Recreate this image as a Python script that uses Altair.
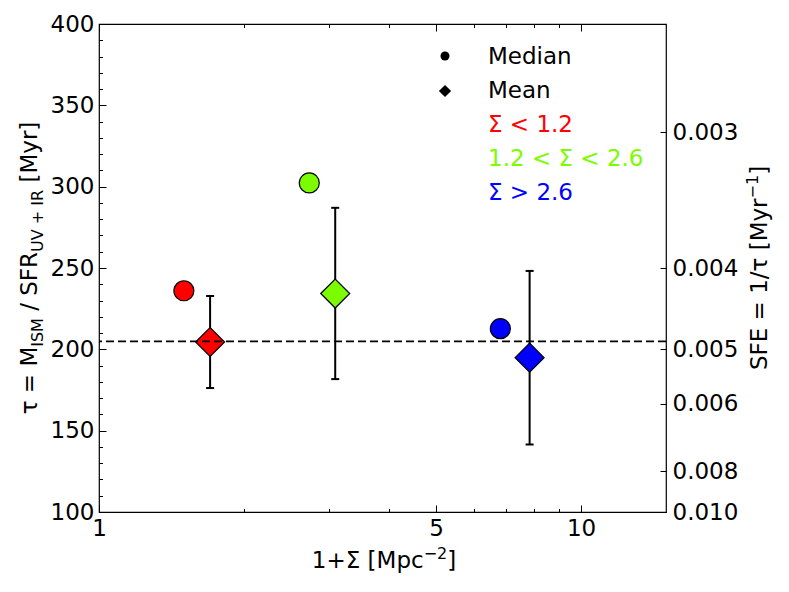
import altair as alt
import pandas as pd

FONT = "DejaVu Sans"

# ---- data ----
groups = ["Σ < 1.2", "1.2 < Σ < 2.6", "Σ > 2.6"]
group_colors = ["#ff0000", "#7cfc00", "#0000ff"]
median_x = [1.50, 2.73, 6.80]
median_tau = [236.0, 302.3, 212.7]
mean_x = [1.70, 3.09, 7.82]
mean_tau = [204.5, 234.3, 194.9]
mean_lo = [176.2, 181.7, 141.5]
mean_hi = [232.8, 287.0, 248.2]
overall_tau = [204.9]

x_domain = [1, 15]
y_domain = [100, 400]
x_major = [1, 5, 10]
x_minor = [2, 3, 4, 6, 7, 8, 9]
y_major = [100, 150, 200, 250, 300, 350, 400]
y_minor = [v for v in range(110, 400, 10) if v % 50]
sfe_ticks = [0.003, 0.004, 0.005, 0.006, 0.008, 0.010]

legend_labels = ["Median", "Mean"] + groups
legend_colors = ["black", "black"] + group_colors

W, H = 567, 488

med = pd.DataFrame({"group": groups, "x": median_x, "tau": median_tau})
mea = pd.DataFrame({"group": groups, "x": mean_x, "tau": mean_tau,
                    "lo": mean_lo, "hi": mean_hi})
hline = pd.DataFrame({"tau": overall_tau})
one = pd.DataFrame({"k": [0]})

xs = alt.Scale(type="log", domain=x_domain, nice=False)
ys = alt.Scale(domain=y_domain, nice=False, zero=False)
fill = alt.Fill("group:N", scale=alt.Scale(domain=groups, range=group_colors), legend=None)

X = alt.X("x:Q", scale=xs, axis=None)

bars = alt.Chart(mea).mark_rule(color="black", strokeWidth=2).encode(
    x=X, y=alt.Y("lo:Q", scale=ys, axis=None), y2="hi:Q")
cap_lo = alt.Chart(mea).mark_tick(orient="horizontal", color="black", size=8,
                                  thickness=2, opacity=1).encode(
    x=X, y=alt.Y("lo:Q", scale=ys, axis=None))
cap_hi = alt.Chart(mea).mark_tick(orient="horizontal", color="black", size=8,
                                  thickness=2, opacity=1).encode(
    x=X, y=alt.Y("hi:Q", scale=ys, axis=None))
medians = alt.Chart(med).mark_point(shape="circle", filled=True, size=400, stroke="black",
                                    strokeWidth=1.2, opacity=1).encode(
    x=X, y=alt.Y("tau:Q", scale=ys, axis=None), fill=fill)
means = alt.Chart(mea).mark_point(shape="diamond", filled=True, size=840, stroke="black",
                                  strokeWidth=1.2, opacity=1).encode(
    x=X, y=alt.Y("tau:Q", scale=ys, axis=None), fill=fill)
dash = alt.Chart(hline).mark_rule(color="black", strokeDash=[8, 4], strokeWidth=1.6).encode(
    y=alt.Y("tau:Q", scale=ys, axis=None))

data_layer = alt.layer(bars, cap_lo, cap_hi, medians, means, dash)


def tsize(v):
    return {"expr": str(-v)}


def x_axis(values, orient, size, labels, **kw):
    return alt.Chart(pd.DataFrame({"x": values})).mark_point(opacity=0).encode(
        x=alt.X("x:Q", scale=xs, axis=alt.Axis(values=values, orient=orient, tickSize=tsize(size),
                                              labels=labels, offset=0, **kw)))


def y_axis(values, orient, size, labels, **kw):
    return alt.Chart(pd.DataFrame({"y": values})).mark_point(opacity=0).encode(
        y=alt.Y("y:Q", scale=ys, axis=alt.Axis(values=values, orient=orient, tickSize=tsize(size),
                                              labels=labels, offset=0, **kw)))


ax_layers = [
    x_axis(x_major, "bottom", 7, True, format="d", labelPadding=12, title=None),
    x_axis(x_minor, "bottom", 3.5, False, title=None),
    x_axis(x_major, "top", 7, False, title=None),
    x_axis(x_minor, "top", 3.5, False, title=None),
    y_axis(y_major, "left", 7, True, labelPadding=12, title=None),
    y_axis(y_minor, "left", 3.5, False, title=None),
    y_axis([1 / v for v in sfe_ticks], "right", 6, True, labelPadding=12,
           labelExpr="format(1/datum.value, '.3f')", title=None),
]

# ---- axis titles with sub/superscripts, built from text pieces ----
WID = {"τ": 0.60, " ": 0.318, "=": 0.838, "M": 0.863, "I": 0.295, "S": 0.635, "/": 0.337,
       "F": 0.575, "R": 0.695, "U": 0.732, "V": 0.684, "+": 0.838, "[": 0.39, "]": 0.39,
       "y": 0.592, "r": 0.411, "1": 0.636, "2": 0.636, "Σ": 0.632, "p": 0.635, "c": 0.55,
       "E": 0.632, "−": 0.838}
MAIN, SUB = 23, 16


def width(txt, fs):
    return sum(WID[c] for c in txt) * fs


def rotated_title(pieces, base_x, center_y):
    total = sum(width(t, fs) + sp * WID[" "] * MAIN for t, fs, _, sp in pieces)
    cur = center_y + total / 2
    out = []
    for txt, fs, dxx, sp in pieces:
        cur -= sp * WID[" "] * MAIN
        out.append(alt.Chart(one).mark_text(
            text=txt, angle=270, align="left", baseline="alphabetic",
            font=FONT, fontSize=fs, color="black").encode(
            x=alt.value(base_x + dxx), y=alt.value(cur)))
        cur -= width(txt, fs)
    return out


def flat_title(pieces, center_x, base_y):
    total = sum(width(t, fs) for t, fs, _ in pieces)
    cur = center_x - total / 2
    out = []
    for txt, fs, dyy in pieces:
        out.append(alt.Chart(one).mark_text(
            text=txt, align="left", baseline="alphabetic",
            font=FONT, fontSize=fs, color="black").encode(
            x=alt.value(cur), y=alt.value(base_y + dyy)))
        cur += width(txt, fs)
    return out


title_layers = []
title_layers += rotated_title(
    [("τ = M", MAIN, 0, 0), ("ISM", SUB, 6, 0), ("/ SFR", MAIN, 0, 1),
     ("UV + IR", SUB, 6, 0), ("[Myr]", MAIN, 0, 1)], -62, H / 2)
title_layers += rotated_title(
    [("SFE = 1/τ [Myr", MAIN, 0, 0), ("−1", SUB, -9, 0), ("]", MAIN, 0, 0)], W + 101, H / 2)
title_layers += flat_title(
    [("1+Σ [Mpc", MAIN, 0), ("−2", SUB, -9), ("]", MAIN, 0)], 285, H + 55.5)

# ---- legend ----
leg_layers = [
    alt.Chart(one).mark_point(shape="circle", filled=True, size=81, color="black",
                              opacity=1).encode(x=alt.value(346), y=alt.value(32)),
    alt.Chart(one).mark_point(shape="diamond", filled=True, size=150, color="black",
                              opacity=1).encode(x=alt.value(346), y=alt.value(67)),
]
for i, (lab, col) in enumerate(zip(legend_labels, legend_colors)):
    leg_layers.append(
        alt.Chart(one).mark_text(text=lab, align="left", baseline="alphabetic", font=FONT,
                                 fontSize=23, color=col).encode(
            x=alt.value(389), y=alt.value(39.5 + 34 * i)))

chart = alt.layer(data_layer, *ax_layers, *title_layers, *leg_layers).resolve_scale(
    x="independent", y="independent"
).properties(
    width=W, height=H,
    autosize=alt.AutoSizeParams(type="none"),
    padding={"left": 91, "top": 16, "right": 110, "bottom": 64},
).configure_view(stroke="black", strokeWidth=1.2).configure_axis(
    domain=False, grid=False, tickColor="black", tickWidth=1,
    labelFont=FONT, labelFontSize=23, labelColor="black",
    labelFlush=False, labelOverlap=False,
    titleFont=FONT, titleFontSize=23, titleFontWeight="normal", titleColor="black",
).configure_text(font=FONT)

chart.save("out.html", embed_options={"renderer": "svg", "actions": False})
